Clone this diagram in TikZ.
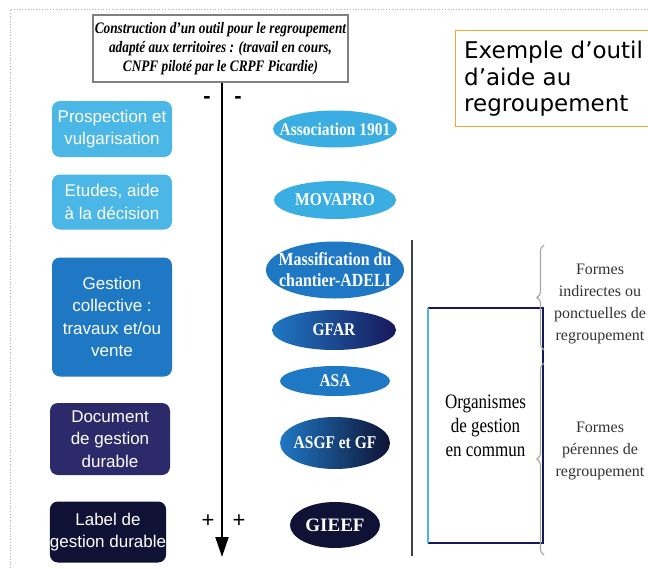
\documentclass[tikz,border=0pt]{standalone}
\usepackage{fontspec}
\setmainfont{Liberation Serif}
\newfontfamily\tsans{Liberation Sans}
\newfontfamily\tcond[FakeStretch=0.86]{Liberation Serif}
\newfontfamily\tcondA[FakeStretch=0.83]{Liberation Serif}
\newfontfamily\tcondC[FakeStretch=0.93]{Liberation Serif}
\newfontfamily\dsans{DejaVu Sans}
\usetikzlibrary{arrows.meta,shapes.geometric,decorations.pathreplacing}
\definecolor{lblue}{HTML}{4BB7E6}
\definecolor{eblue}{HTML}{3AAEE2}
\definecolor{mblue}{HTML}{1F78C4}
\definecolor{indig}{HTML}{2D2A6C}
\definecolor{navy}{HTML}{0F1234}
\definecolor{dnavy}{HTML}{17185A}
\definecolor{orng}{HTML}{F5A830}
\tikzset{
  lbox/.style={rounded corners=8pt, text=white, font=\tsans\fontsize{17}{22.5}\selectfont, align=center, inner sep=0pt},
  ell/.style={ellipse, inner sep=0pt},
  etxt/.style={text=white, font=\tcond\bfseries\fontsize{18}{21}\selectfont, align=center, inner sep=0pt},
  sign/.style={font=\tsans\fontsize{22}{22}\selectfont, inner sep=0pt},
  rtext/.style={font=\fontsize{16}{22}\selectfont, align=center, text=black!80, inner sep=0pt},
  brc/.style={decorate, decoration={brace, amplitude=7pt}, draw=gray!70, line width=1.1pt}
}
\begin{document}
\begin{tikzpicture}[x=1pt,y=-1pt]
\useasboundingbox (0,0) rectangle (648,568);
\clip (0,0) rectangle (648,568);
\fill[white] (0,0) rectangle (648,568);
\draw[gray!60, dotted, line width=0.8pt] (10,568) -- (10,9) -- (648,9);

% title
\node[draw=gray, line width=1.5pt, minimum width=255pt, minimum height=67pt, inner sep=0pt,
      align=center, font=\tcondA\bfseries\itshape\fontsize{16}{19}\selectfont] (title) at (220.5,48.5)
  {Construction d’un outil pour le regroupement\\adapté aux territoires : (travail en cours,\\CNPF piloté par le CRPF Picardie)};

% orange box
\node[draw=orng, line width=1pt, minimum width=205pt, minimum height=96pt, inner sep=0pt] (ex) at (557.5,78) {};
\node[anchor=north west, inner sep=0pt, align=left, font=\dsans\fontsize{23}{26.5}\selectfont] (extext) at (464,41)
  {Exemple d’outil\\d’aide au\\regroupement};

% axis arrow
\coordinate (aend) at (222,557);
\draw[line width=2pt, -{Triangle[width=13pt,length=20pt]}] (title.south -| aend) -- (aend);
\node[sign] (m1) at (207,100) {\textbf{-}};
\node[sign] (m2) at (238,100) {\textbf{-}};
\node[sign] (p1) at (208,521) {+};
\node[sign] (p2) at (239,521) {+};

% left boxes
\node[lbox, fill=lblue, minimum width=120pt, minimum height=56pt] (b1) at (112,129) {Prospection et\\vulgarisation};
\node[lbox, fill=lblue, minimum width=120pt, minimum height=55pt] (b2) at (112,202) {Etudes, aide\\à la décision};
\node[lbox, fill=mblue, minimum width=120pt, minimum height=119pt] (b3) at (112,317) {Gestion\\collective :\\travaux et/ou\\vente};
\node[lbox, fill=indig, minimum width=120pt, minimum height=72pt] (b4) at (110,439) {Document\\de gestion\\durable};
\node[lbox, fill=navy, minimum width=116pt, minimum height=61pt] (b5) at (108,532) {Label de\\gestion durable};

% ellipses
\node[ell, fill=eblue, minimum width=124pt, minimum height=37pt,
      label={[etxt, name=e1t]center:Association 1901}] (e1) at (335,129) {};
\node[ell, fill=eblue, minimum width=122pt, minimum height=38pt,
      label={[etxt, name=e2t]center:MOVAPRO}] (e2) at (335,200) {};
\node[ell, fill=mblue, minimum width=138pt, minimum height=57pt,
      label={[etxt, name=e3t, font=\tcond\bfseries\fontsize{18.5}{21}\selectfont]center:Massification du\\chantier-ADELI}] (e3) at (335,270) {};
\node[ell, left color=mblue, right color=dnavy, minimum width=124pt, minimum height=40pt,
      label={[etxt, name=e4t]center:GFAR}] (e4) at (334,330) {};
\node[ell, fill=mblue, minimum width=110pt, minimum height=30pt,
      label={[etxt, name=e5t]center:ASA}] (e5) at (335,381) {};
\node[ell, left color=mblue, right color=navy, minimum width=110pt, minimum height=52pt,
      label={[etxt, name=e6t]center:ASGF et GF}] (e6) at (335,443) {};
\node[ell, fill=navy, minimum width=90pt, minimum height=46pt,
      label={[etxt, name=e7t, font=\rmfamily\bfseries\fontsize{19}{21}\selectfont]center:GIEEF}] (e7) at (335,525) {};

% vertical separator
\coordinate (v1) at (412,240);
\coordinate (v2) at (412,556);
\draw[line width=1.5pt, black!75] (v1) -- (v2);

% organismes box
\node[minimum width=115pt, minimum height=235pt, inner sep=0pt, align=center,
      font=\tcondA\fontsize{20.5}{24}\selectfont] (org) at (485.5,425.5) {Organismes\\de gestion\\en commun};
\draw[dnavy, line width=1.5pt] (org.south west) -- (org.south east) -- (org.north east) -- (org.north west);
\draw[lblue, line width=1.5pt] (org.north west) -- (org.south west);

% braces
\coordinate (br1a) at (544,350);
\coordinate (br1b) at (544,245);
\coordinate (br2a) at (544,555);
\coordinate (br2b) at (544,363);
\draw[brc] (br1a) -- (br1b);
\draw[brc] (br2a) -- (br2b);

\node[rtext] (f1) at (600,304) {Formes\\indirectes ou\\ponctuelles de\\regroupement};
\node[rtext] (f2) at (600,451) {Formes\\pérennes de\\regroupement};
\end{tikzpicture}
\end{document}
